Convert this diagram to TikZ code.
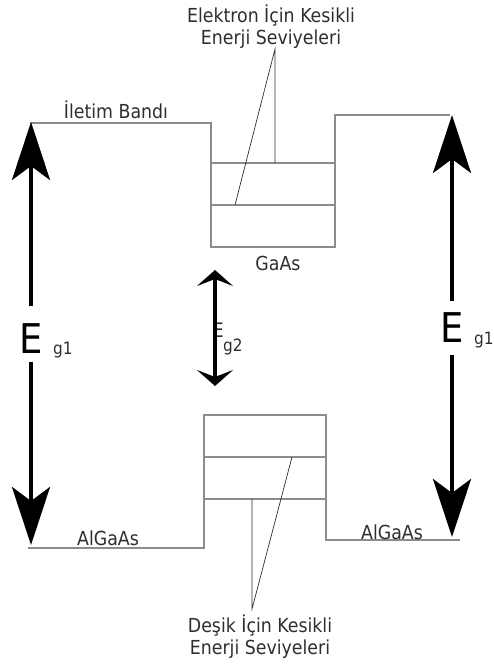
\documentclass[tikz,border=0pt]{standalone}
\usepackage{fontspec}
\setmainfont{DejaVu Sans Condensed}
\usetikzlibrary{arrows.meta,positioning}
\definecolor{bandgray}{gray}{0.55}
\definecolor{textgray}{gray}{0.18}

\begin{document}
\begin{tikzpicture}[x=1pt,y=-1pt,
  band/.style={draw=bandgray, line width=1.2pt},
  lead/.style={draw=textgray, line width=0.7pt},
  lbl/.style={text=textgray, font=\fontsize{19.3}{22}\selectfont, inner sep=0pt, align=center},
  bigarr/.style={line width=4pt, {Stealth[length=58pt,width=38pt,inset=14pt]}-{Stealth[length=58pt,width=38pt,inset=14pt]}},
  smallarr/.style={line width=4pt, {Stealth[length=16pt,width=36pt,inset=7pt]}-{Stealth[length=16pt,width=36pt,inset=7pt]}},
  bigE/.style={font=\fontsize{41}{41}\selectfont, inner sep=0pt, fill=white},
  sub/.style={text=textgray, font=\fontsize{17}{17}\selectfont, inner sep=0pt, anchor=base west}]
  \useasboundingbox (0,0) rectangle (494,666);
  \draw[band] (30,123) -- (211,123) -- (211,247) -- (335,247) -- (335,115) -- (450,115);
  \draw[band] (211,163) -- (335,163) (211,205) -- (335,205);
  \draw[band] (28,548) -- (204,548) -- (204,415) -- (326,415) -- (326,540) -- (460,540);
  \draw[band] (204,457) -- (326,457) (204,499) -- (326,499);

  \node[lbl] (et) at (271,27) {Elektron İçin Kesikli\\Enerji Seviyeleri};
  \node[lbl, inner ysep=6pt] (dt) at (260,637) {Deşik İçin Kesikli\\Enerji Seviyeleri};
  \node[lbl] (iletim) at (116,110) {İletim Bandı};
  \node[lbl] (gaas) at (278,263) {GaAs};
  \node[lbl] (alg1) at (108,538) {AlGaAs};
  \node[lbl] (alg2) at (392,532) {AlGaAs};

  \coordinate (elv1) at (275,163);
  \coordinate (elv2) at (235,205);
  \coordinate (hlv1) at (292,457);
  \coordinate (hlv2) at (252,499);
  \draw[lead] (elv1) -- (elv1 |- et.south) -- (elv2);
  \draw[lead] (hlv2) -- (hlv2 |- dt.north) -- (hlv1);

  \coordinate (lt) at (31,122);
  \coordinate (lb) at (31,545);
  \coordinate (rt) at (452,115);
  \coordinate (rb) at (452,537);
  \coordinate (mt) at (215,270);
  \coordinate (mb) at (215,386);
  \draw[bigarr] (lt) -- (lb);
  \draw[bigarr] (rt) -- (rb);
  \node[bigE, anchor=base, text height=47pt, text depth=9pt] (el) at (31,353) {E};
  \node[sub] (elsub) at (53,354) {g1};
  \node[bigE, anchor=base, text height=41pt, text depth=13pt] (er) at (452,342) {E};
  \node[sub] (ersub) at (474,344) {g1};
  \node[text=textgray, font=\fontsize{20}{20}\selectfont, inner sep=0pt, anchor=base] (em) at (218,337) {E};
  \draw[smallarr] (mt) -- (mb);
  \node[sub] (emsub) at (223,351) {g2};
\end{tikzpicture}
\end{document}
